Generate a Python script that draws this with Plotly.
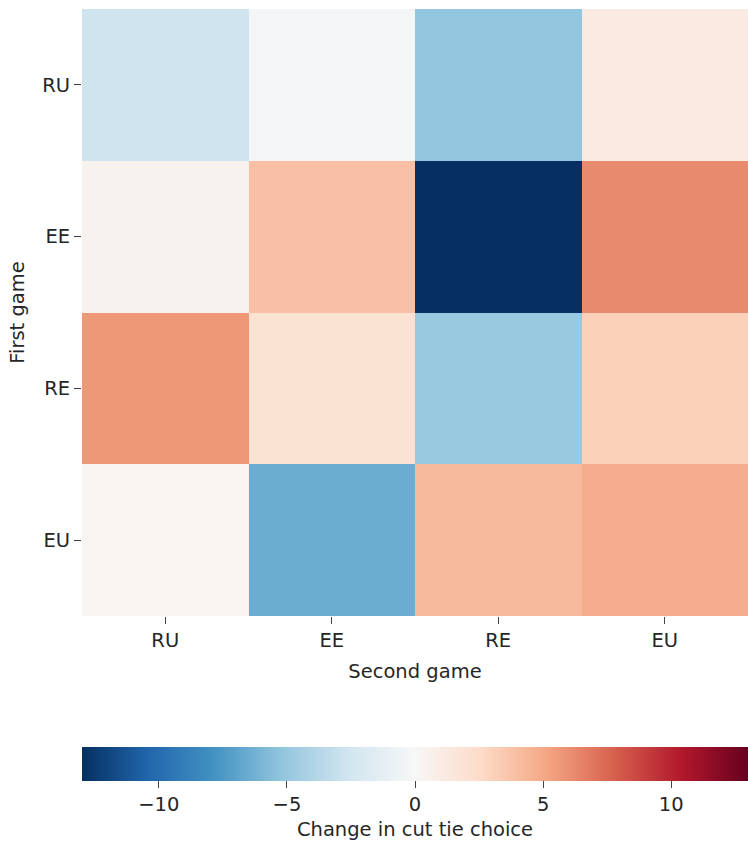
import plotly.graph_objects as go

second_game = ["RU", "EE", "RE", "EU"]
first_game = ["RU", "EE", "RE", "EU"]
values = [
    [-2.7, -0.3, -5.2, 1.2],
    [0.5, 3.9, -13.0, 6.2],
    [5.7, 1.9, -4.9, 3.1],
    [0.3, -6.5, 4.2, 4.8],
]
cb_ticks = [-10, -5, 0, 5, 10]

rdbu_r = ["#053061", "#2166ac", "#4393c3", "#92c5de", "#d1e5f0", "#f7f7f7",
          "#fddbc7", "#f4a582", "#d6604d", "#b2182b", "#67001f"]
colorscale = [[i / 10, c] for i, c in enumerate(rdbu_r)]

font = dict(family="DejaVu Sans", size=19.5, color="#262626")

fig = go.Figure(go.Heatmap(
    z=values, x=second_game, y=first_game,
    colorscale=colorscale, zmin=-13, zmax=13, xgap=0, ygap=0,
    colorbar=dict(
        orientation="h", x=0, xanchor="left", y=-0.2158, yanchor="top",
        len=1, lenmode="fraction", thickness=34, thicknessmode="pixels",
        xpad=0, ypad=0, outlinewidth=0,
        tickvals=cb_ticks, ticktext=["\u221210", "\u22125", "0", "5", "10"],
        ticks="outside", ticklen=7, tickcolor="#444", tickfont=font,
        title=dict(text="Change in cut tie choice", side="bottom", font=font),
    ),
))

fig.update_layout(
    width=748, height=848,
    margin=dict(l=82, r=0, t=9, b=232),
    paper_bgcolor="white", plot_bgcolor="white",
    font=font,
    xaxis=dict(title=dict(text="Second game", font=font, standoff=12),
               ticks="outside", ticklen=7, tickcolor="#444",
               showgrid=False, zeroline=False, showline=False, tickfont=font),
    yaxis=dict(title=dict(text="First game", font=font, standoff=12),
               autorange="reversed",
               ticks="outside", ticklen=7, tickcolor="#444",
               showgrid=False, zeroline=False, showline=False, tickfont=font),
)

fig.write_html("out.html")
